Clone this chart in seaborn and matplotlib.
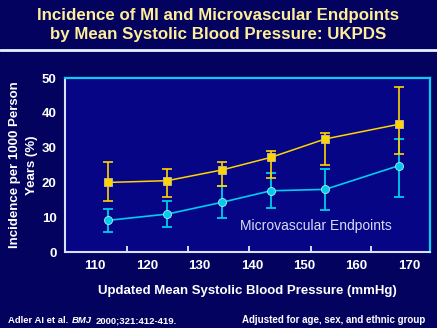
import matplotlib
matplotlib.use("Agg")
import matplotlib.pyplot as plt
import seaborn as sns
import pandas as pd
from matplotlib.ticker import FixedLocator
from matplotlib.lines import Line2D

# Updated mean systolic blood pressure (mmHg) per category
sbp = [112.5, 123.8, 134.3, 143.6, 154.0, 168.0]

# Myocardial infarction incidence per 1000 person years, with 95% CI
mi_rate = [20.0, 20.5, 23.6, 27.2, 32.5, 36.7]
mi_low = [14.6, 15.8, 18.9, 21.4, 24.9, 28.1]
mi_high = [25.8, 24.0, 26.0, 29.1, 34.2, 47.3]

# Microvascular endpoints incidence per 1000 person years, with 95% CI
mv_rate = [9.1, 10.9, 14.3, 17.6, 18.0, 24.8]
mv_low = [5.7, 7.3, 9.8, 12.7, 12.0, 15.7]
mv_high = [12.5, 14.8, 19.0, 22.8, 23.9, 32.4]

x_ticks = [110, 120, 130, 140, 150, 160, 170]
y_ticks = [0, 10, 20, 30, 40, 50]

FIG_BG = "#03035F"
AX_BG = "#050585"
YELLOW = "#FFD400"
CYAN = "#00CCEE"
TITLE_YELLOW = "#FFEE99"
WHITE = "#FFFFFF"

sns.set_style("white")
plt.rcParams["font.family"] = ["Liberation Sans", "DejaVu Sans"]

fig = plt.figure(figsize=(4.37, 3.28), dpi=100, facecolor=FIG_BG)
ax = fig.add_axes([0.1487, 0.2317, 0.8352, 0.5303])
ax.set_facecolor(AX_BG)

df = pd.DataFrame({
    "sbp": sbp * 2,
    "rate": mi_rate + mv_rate,
    "series": ["MI"] * len(sbp) + ["Microvascular Endpoints"] * len(sbp),
})

# Error bars first so the markers sit on top
ax.errorbar(sbp, mv_rate,
            yerr=[[r - l for r, l in zip(mv_rate, mv_low)],
                  [h - r for r, h in zip(mv_rate, mv_high)]],
            fmt="none", ecolor=CYAN, elinewidth=1.3, capsize=3.8,
            capthick=1.3, zorder=2)
ax.errorbar(sbp, mi_rate,
            yerr=[[r - l for r, l in zip(mi_rate, mi_low)],
                  [h - r for r, h in zip(mi_rate, mi_high)]],
            fmt="none", ecolor=YELLOW, elinewidth=1.2, capsize=3.8,
            capthick=1.2, zorder=2)

sns.lineplot(data=df[df.series == "MI"], x="sbp", y="rate", ax=ax,
             color=YELLOW, marker="s", markersize=6, linewidth=1.1,
             markeredgecolor="#C8C0A0", markeredgewidth=0.6,
             legend=False, zorder=3)
sns.lineplot(data=df[df.series == "Microvascular Endpoints"], x="sbp",
             y="rate", ax=ax, color=CYAN, marker="o", markersize=5.8,
             linewidth=1.2, markeredgecolor="#B8E8F8",
             markeredgewidth=0.6, legend=False, zorder=3)

ax.set_xlim(104.27, 174.0)
ax.set_ylim(0, 50)
ax.set_xticks(x_ticks)
ax.set_yticks(y_ticks)
ax.xaxis.set_minor_locator(FixedLocator([116.1, 127.8, 139.4, 151.3, 162.8]))
ax.tick_params(axis="x", which="major", length=0, pad=6,
               labelsize=9.5, labelcolor=WHITE)
ax.tick_params(axis="x", which="minor", length=4, width=1.2,
               direction="in", color=WHITE, bottom=True)
ax.tick_params(axis="y", which="major", length=4, width=1.2,
               direction="in", color=WHITE, pad=6,
               labelsize=9.5, labelcolor=WHITE)
for lab in ax.get_xticklabels() + ax.get_yticklabels():
    lab.set_fontweight("bold")

for side in ("left", "bottom"):
    ax.spines[side].set_color("#D8E0FF")
    ax.spines[side].set_linewidth(1.5)
for side in ("top", "right"):
    ax.spines[side].set_color("#10C8F0")
    ax.spines[side].set_linewidth(1.6)

ax.set_xlabel("Updated Mean Systolic Blood Pressure (mmHg)", color=WHITE,
              fontsize=9.5, fontweight="bold", labelpad=9)
ax.set_ylabel("Incidence per 1000 Person\nYears (%)", color=WHITE,
              fontsize=9.5, fontweight="bold", labelpad=3, linespacing=1.5)

ax.text(0.687, 0.15, "Microvascular Endpoints", transform=ax.transAxes,
        ha="center", va="center", color="#D8DCF4", fontsize=10)

fig.text(0.5, 0.975, "Incidence of MI and Microvascular Endpoints\n"
         "by Mean Systolic Blood Pressure: UKPDS",
         ha="center", va="top", color=TITLE_YELLOW, fontsize=12.2,
         fontweight="bold", linespacing=1.35)
fig.add_artist(Line2D([0, 1], [0.849, 0.849], transform=fig.transFigure,
                      color="#E8F0FF", linewidth=2))

# Citation: plain, italic journal name, plain — laid out piece by piece
renderer = fig.canvas.get_renderer()
x_px = 8
for piece, style in (("Adler AI et al.", "normal"), ("BMJ", "italic"),
                     ("2000;321:412-419.", "normal")):
    t = fig.text(x_px / 437, 0.008, piece, ha="left", va="bottom",
                 color=WHITE, fontsize=6.8, fontweight="bold", style=style)
    x_px = t.get_window_extent(renderer).x1 + 3.5
fig.text(0.973, 0.008, "Adjusted for age, sex, and ethnic group",
         ha="right", va="bottom", color=WHITE, fontsize=7,
         fontweight="bold")

fig.savefig("out.png", dpi=100, facecolor=FIG_BG)
